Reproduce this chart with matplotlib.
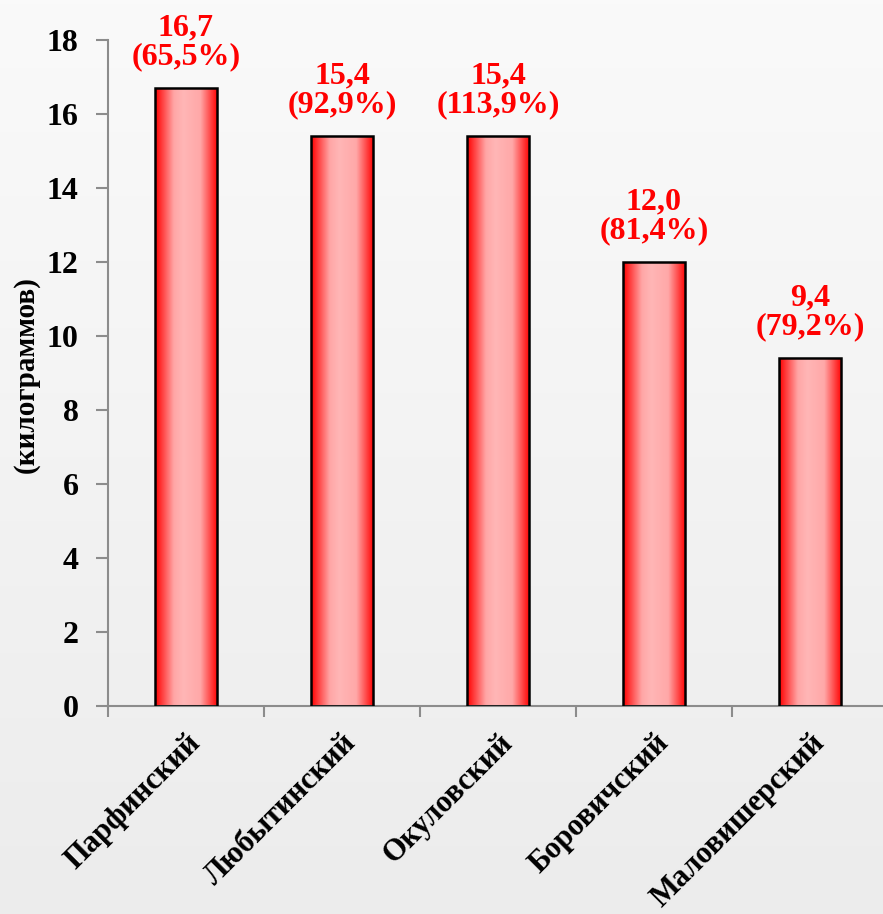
import numpy as np
import matplotlib.pyplot as plt
from matplotlib.colors import LinearSegmentedColormap
from matplotlib.patches import Rectangle

plt.rcParams['font.family'] = ['Liberation Serif', 'DejaVu Serif']
plt.rcParams['font.weight'] = 'bold'

districts = ['Парфинский', 'Любытинский', 'Окуловский', 'Боровичский', 'Маловишерский']
values = [16.7, 15.4, 15.4, 12.0, 9.4]
value_text = ['16,7', '15,4', '15,4', '12,0', '9,4']
pct_text = ['(65,5%)', '(92,9%)', '(113,9%)', '(81,4%)', '(79,2%)']

W, H = 883, 914
fig = plt.figure(figsize=(W / 100, H / 100), dpi=100)

# light vertical background gradient
bg = fig.add_axes([0, 0, 1, 1], zorder=-10)
grad = np.linspace(0, 1, 256).reshape(-1, 1)
bg_cmap = LinearSegmentedColormap.from_list('bg', ['#fafafa', '#ececec'])
bg.imshow(grad, aspect='auto', cmap=bg_cmap, extent=[0, 1, 0, 1])
bg.axis('off')

left, right = 108 / W, 888 / W
bottom, top = 1 - 706 / H, 1 - 40 / H
ax = fig.add_axes([left, bottom, right - left, top - bottom])
ax.patch.set_alpha(0)

bar_cmap = LinearSegmentedColormap.from_list(
    'bar', [(0, '#ff0000'), (0.3, '#ffa6a6'), (0.45, '#ffb6b6'),
            (0.72, '#ffa8a8'), (1, '#ff0000')])
hgrad = np.linspace(0, 1, 256).reshape(1, -1)

x = np.arange(len(districts))
width = 0.4
bars = ax.bar(x, values, width=width, color='none', edgecolor='black', linewidth=1.8, zorder=3)
for b in bars:
    x0, y0 = b.get_x(), b.get_y()
    w, h = b.get_width(), b.get_height()
    im = ax.imshow(hgrad, aspect='auto', cmap=bar_cmap, extent=[x0, x0 + w, y0, y0 + h], zorder=2)
    im.set_clip_path(Rectangle((x0, y0), w, h, transform=ax.transData))

for xi, v, t1, t2 in zip(x, values, value_text, pct_text):
    ax.text(xi, v + 0.45, t1 + '\n' + t2, ha='center', va='bottom', color='#ff0000',
            fontsize=23, fontweight='bold', linespacing=1.0)

ax.set_xlim(-0.5, len(districts) - 0.5)
ax.set_ylim(0, 18)
ax.set_yticks(np.arange(0, 19, 2))
ax.set_yticklabels([str(v) for v in range(0, 19, 2)], fontsize=23, fontweight='bold')
ax.set_xticks(x)
ax.set_xticklabels(districts, rotation=45, ha='right', rotation_mode='anchor',
                   fontsize=22, fontweight='bold')
ax.set_xticks(np.arange(len(districts) + 1) - 0.5, minor=True)
ax.tick_params(axis='x', which='major', length=0, pad=16)
ax.tick_params(axis='x', which='minor', length=8, color='#8c8c8c', width=1.5)
ax.tick_params(axis='y', length=9, color='#8c8c8c', width=1.5, pad=12)
for s in ['top', 'right']:
    ax.spines[s].set_visible(False)
for s in ['left', 'bottom']:
    ax.spines[s].set_color('#8c8c8c')
    ax.spines[s].set_linewidth(1.5)

fig.text(26 / W, 1 - 375 / H, '(килограммов)', rotation=90, ha='center', va='center',
         fontsize=21, fontweight='bold')

fig.savefig('out.png', dpi=100)
